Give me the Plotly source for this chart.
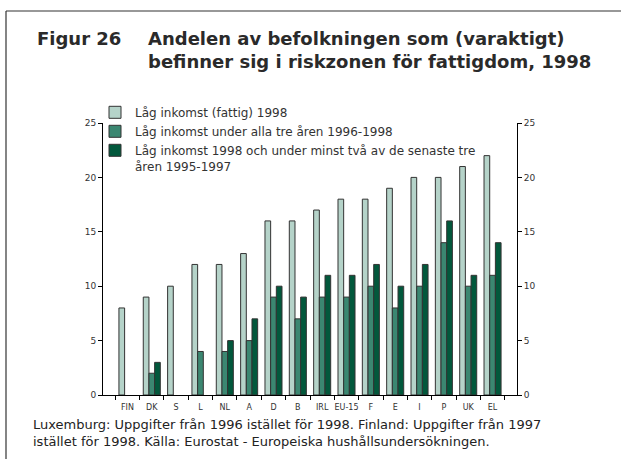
import plotly.graph_objects as go

categories = ["FIN", "DK", "S", "L", "NL", "A", "D", "B", "IRL", "EU-15", "F", "E", "I", "P", "UK", "EL"]
low_income_1998 = [8, 9, 10, 12, 12, 13, 16, 16, 17, 18, 18, 19, 20, 20, 21, 22]
low_income_all_three = [None, 2, None, 4, 4, 5, 9, 7, 9, 9, 10, 8, 10, 14, 10, 11]
low_income_two_of_three = [None, 3, None, None, 5, 7, 10, 9, 11, 11, 12, 10, 12, 16, 11, 14]
y_ticks = [0, 5, 10, 15, 20, 25]

names = [
    "Låg inkomst (fattig) 1998",
    "Låg inkomst under alla tre åren 1996-1998",
    "Låg inkomst 1998 och under minst två av de senaste tre<br>åren 1995-1997",
]
colors = ["#b5d3c9", "#3b8771", "#02583c"]
series = [low_income_1998, low_income_all_three, low_income_two_of_three]

W, H = 621, 459
L, R, T, B = 103, 104, 123, 64
pw, ph = W - L - R, H - T - B

def px(x):
    return (x - L) / pw

def py(y):
    return (H - B - y) / ph

FONT = "DejaVu Sans, Verdana, sans-serif"

fig = go.Figure()
for n, c, s in zip(names, colors, series):
    fig.add_trace(go.Bar(x=categories, y=s, name=n, marker=dict(color=c, line=dict(color="#333333", width=1))))
# invisible trace to anchor the right axis
fig.add_trace(go.Scatter(x=categories, y=low_income_1998, yaxis="y2", mode="markers",
                         marker=dict(opacity=0), showlegend=False, hoverinfo="skip"))

txt = "#333333"
fig.update_layout(
    width=W, height=H,
    margin=dict(l=L, r=R, t=T, b=B, pad=0),
    paper_bgcolor="white", plot_bgcolor="white",
    font=dict(family=FONT, color=txt),
    barmode="group", bargap=0.3, bargroupgap=0,
    showlegend=True,
    legend=dict(x=px(95), y=py(98), xanchor="left", yanchor="top",
                bgcolor="rgba(0,0,0,0)", font=dict(size=12, color=txt),
                valign="top", itemwidth=30, tracegroupgap=0),
    xaxis=dict(showline=True, linecolor="#000", linewidth=1, ticks="outside", ticklen=4,
               tickcolor="#000", tickson="boundaries", showgrid=False, tickangle=0,
               ticklabelstandoff=4, tickfont=dict(size=8, color=txt)),
    yaxis=dict(range=[0, 25], tickvals=y_ticks, showline=True, linecolor="#000", linewidth=1,
               ticks="outside", ticklen=4, tickcolor="#000", showgrid=False, zeroline=False,
               tickfont=dict(size=9, color=txt)),
    yaxis2=dict(range=[0, 25], tickvals=y_ticks, overlaying="y", side="right", showline=True,
                linecolor="#000", linewidth=1, ticks="outside", ticklen=4, tickcolor="#000",
                showgrid=False, zeroline=False, tickfont=dict(size=9, color=txt)),
)

# frame
fig.add_shape(type="line", xref="paper", yref="paper", x0=px(6), x1=px(W + 5), y0=py(11), y1=py(11),
              line=dict(color="#333333", width=1.2))
fig.add_shape(type="line", xref="paper", yref="paper", x0=px(6), x1=px(6), y0=py(11), y1=py(H + 5),
              line=dict(color="#333333", width=1.2))

# title
fig.add_annotation(text="<b>Figur 26</b>", xref="paper", yref="paper", x=px(35), y=py(26),
                   xanchor="left", yanchor="top", showarrow=False,
                   font=dict(size=18, color="#2a2a2a"))
fig.add_annotation(text="<b>Andelen av befolkningen som (varaktigt)<br>befinner sig i riskzonen för fattigdom, 1998</b>",
                   xref="paper", yref="paper", x=px(146), y=py(26), xanchor="left", yanchor="top",
                   showarrow=False, align="left", font=dict(size=18, color="#2a2a2a"))

# caption
fig.add_annotation(text="Luxemburg: Uppgifter från 1996 istället för 1998. Finland: Uppgifter från 1997<br>istället för 1998. Källa: Eurostat - Europeiska hushållsundersökningen.",
                   xref="paper", yref="paper", x=px(31), y=py(415), xanchor="left", yanchor="top",
                   showarrow=False, align="left", font=dict(size=13, color="#222222"))

fig.write_html("out.html", config={"displayModeBar": False},
               post_script="document.body.style.margin='0';")
